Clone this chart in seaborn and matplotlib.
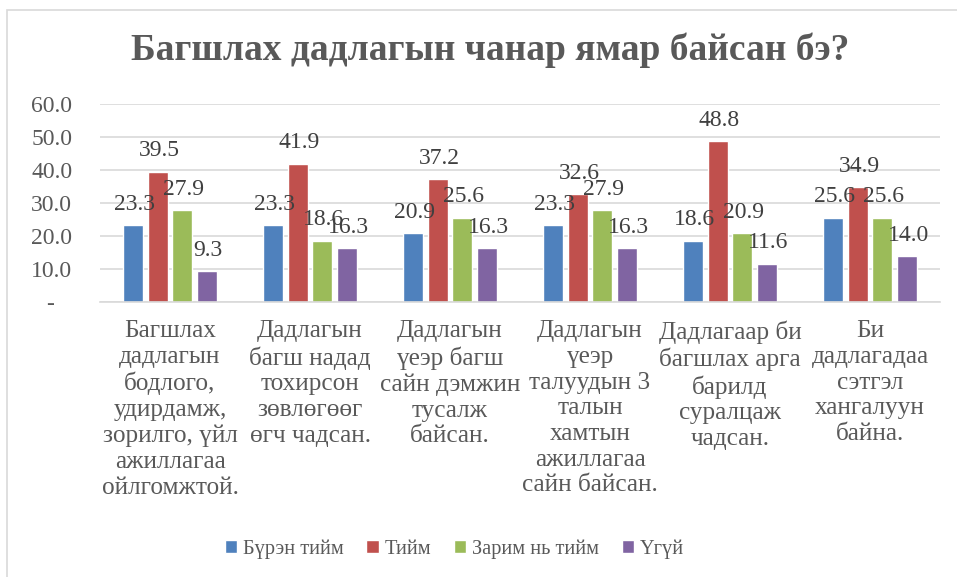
import pandas as pd
import seaborn as sns
import matplotlib.pyplot as plt
from matplotlib.patches import Rectangle, Patch

categories = [
    "Багшлах\nдадлагын\nбодлого,\nудирдамж,\nзорилго, үйл\nажиллагаа\nойлгомжтой.",
    "Дадлагын\nбагш надад\nтохирсон\nзөвлөгөөг\nөгч чадсан.",
    "Дадлагын\nүеэр багш\nсайн дэмжин\nтусалж\nбайсан.",
    "Дадлагын\nүеэр\nталуудын 3\nталын\nхамтын\nажиллагаа\nсайн байсан.",
    "Дадлагаар би\nбагшлах арга\nбарилд\nсуралцаж\nчадсан.",
    "Би\nдадлагадаа\nсэтгэл\nхангалуун\nбайна.",
]
series = ["Бүрэн тийм", "Тийм", "Зарим нь тийм", "Үгүй"]
full_yes = [23.3, 23.3, 20.9, 23.3, 18.6, 25.6]
yes = [39.5, 41.9, 37.2, 32.6, 48.8, 34.9]
some_yes = [27.9, 18.6, 25.6, 27.9, 20.9, 25.6]
no = [9.3, 16.3, 16.3, 16.3, 11.6, 14.0]
yticks = [0, 10, 20, 30, 40, 50, 60]

colors = ["#4F81BD", "#C0504D", "#9BBB59", "#8064A2"]
grey = "#595959"

rows = []
for s, vals in zip(series, [full_yes, yes, some_yes, no]):
    for c, v in zip(categories, vals):
        rows.append({"category": c, "series": s, "value": v})
df = pd.DataFrame(rows)

sns.set_style("white")
plt.rcParams["font.family"] = ["Liberation Serif", "DejaVu Serif"]

fig = plt.figure(figsize=(9.57, 5.77), dpi=100)
ax = fig.add_axes([100 / 957, 1 - 302 / 577, 840 / 957, 198 / 577])

sns.barplot(data=df, x="category", y="value", hue="series", order=categories,
            hue_order=series, palette=colors, width=0.7, gap=0.2,
            saturation=1, legend=False, ax=ax)

# data labels above bars
for container in ax.containers:
    for bar in container:
        h = bar.get_height()
        ax.annotate(f"{h:.1f}", (bar.get_x() + bar.get_width() / 2, h),
                    xytext=(1, 11), textcoords="offset points",
                    ha="center", va="baseline", fontsize=17, color="#404040")

ax.set_ylim(0, 60)
ax.set_yticks(yticks)
ax.set_yticklabels(["-   " if t == 0 else f"{t:.1f}" for t in yticks])
ax.set_xlim(-0.5, len(categories) - 0.5)
ax.yaxis.grid(True, color="#D9D9D9", linewidth=1.2)
ax.set_axisbelow(True)
for side in ["left", "right", "top"]:
    ax.spines[side].set_visible(False)
ax.spines["bottom"].set_color("#D9D9D9")
ax.spines["bottom"].set_linewidth(1.2)
ax.tick_params(axis="y", length=0, pad=20, labelsize=17, labelcolor=grey)
ax.tick_params(axis="x", length=0, pad=13, labelsize=18.2, labelcolor=grey)
for lbl in ax.get_xticklabels():
    lbl.set_linespacing(1.22)
    lbl.set_verticalalignment("top")
ax.set_xlabel("")
ax.set_ylabel("")

fig.text(490 / 957, 1 - 50 / 577, "Багшлах дадлагын чанар ямар байсан бэ?",
         ha="center", va="center", fontsize=27, fontweight="bold", color=grey)

handles = [Patch(facecolor=c, label=s) for c, s in zip(colors, series)]
fig.legend(handles=handles, loc="center", bbox_to_anchor=(0.475, 1 - 549 / 577),
           ncol=4, frameon=False, fontsize=14.7, labelcolor=grey,
           handlelength=0.6, handleheight=0.6, handletextpad=0.3,
           columnspacing=1.1)

fig.patches.append(Rectangle((7 / 957, -0.1), 1.2, 0.1 + 1 - 10 / 577,
                             transform=fig.transFigure, fill=False,
                             edgecolor="#D9D9D9", linewidth=1.2))

fig.savefig("out.png", dpi=100, facecolor="white")
